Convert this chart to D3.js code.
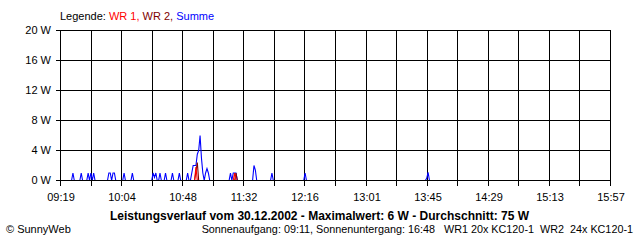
<!DOCTYPE html>
<html>
<head>
<meta charset="utf-8">
<script src="https://cdn.jsdelivr.net/npm/d3@7"></script>
<style>
  body { margin: 0; background: #fff; }
  svg { display: block; font-family: "Liberation Sans", Arial, sans-serif; }
</style>
</head>
<body>
<svg id="chart" width="640" height="240"></svg>
<script>
// time labels on the x axis (every second grid line)
var timeLabels = ["09:19", "10:04", "10:48", "11:32", "12:16", "13:01", "13:45", "14:29", "15:13", "15:57"];
var yTicks = [0, 4, 8, 12, 16, 20];

// Summe (blue) - minute of day / watts
var summeTimes = [559, 567, 568, 569, 573, 574, 575, 578, 579, 580, 581, 582, 583, 584,
  593, 594, 595, 596, 597, 598, 599, 604, 605, 606, 610, 611, 612,
  625, 626, 627, 628, 629, 630, 631, 632, 634, 635, 636, 639, 640, 641, 644, 645, 646,
  650, 651, 652, 653, 654, 655, 656, 657, 658, 659, 660, 661, 662, 663, 664, 665, 666, 667,
  681, 682, 683, 684, 685, 686, 687, 698, 699, 700, 701, 711, 712, 713, 735, 736, 737,
  823, 824, 825, 826, 957];
var summeValues = [0, 0, 1, 0, 0, 1, 0, 0, 1, 0, 1, 0, 1, 0,
  0, 1, 1, 0, 1, 1, 0, 0, 1, 0, 0, 1, 0,
  0, 1, 0.4, 1, 0, 0, 1, 0, 0, 1, 0, 0, 1, 0, 0, 1, 0,
  0, 1, 0, 0, 1, 2, 2, 2, 3.5, 4, 6, 3, 1, 0, 1, 1.6, 1, 0,
  0, 1, 0, 1, 1, 1, 0, 0, 2, 1.4, 0, 0, 1, 0, 0, 1, 0,
  0, 0.3, 1.1, 0, 0];

// WR 1 (red)
var wr1Times = [559, 655, 656, 657, 658, 684, 685, 686, 957];
var wr1Values = [0, 0, 0, 1.8, 0, 0, 1, 0, 0];

// WR 2 (dark red)
var wr2Times = [559, 656, 657, 658, 659, 685, 686, 687, 957];
var wr2Values = [0, 0, 1.2, 2.4, 0, 0, 1, 0, 0];

var svg = d3.select("#chart");
var margin = { top: 30, left: 60, right: 30, bottom: 60 };
var plotRight = 610, plotBottom = 180;

var x = d3.scaleLinear().domain([559, 957]).range([margin.left, plotRight]);
var y = d3.scaleLinear().domain([0, 20]).range([plotBottom, margin.top]);

var g = svg.append("g").attr("transform", "translate(0.5,0.5)");

// grid
var gridTicks = d3.range(19).map(function(i) { return 559 + i * 398 / 18; });
g.append("g").selectAll("line").data(gridTicks).enter().append("line")
  .attr("x1", function(d) { return Math.round(x(d)); })
  .attr("x2", function(d) { return Math.round(x(d)); })
  .attr("y1", margin.top).attr("y2", plotBottom + 5)
  .attr("stroke", "#000").attr("shape-rendering", "crispEdges");
g.append("g").selectAll("line").data(yTicks).enter().append("line")
  .attr("x1", margin.left - 5).attr("x2", plotRight)
  .attr("y1", function(d) { return y(d); })
  .attr("y2", function(d) { return y(d); })
  .attr("stroke", "#000").attr("shape-rendering", "crispEdges");

// series
function series(times, values, color) {
  var pts = times.map(function(t, i) { return [t, values[i]]; });
  var line = d3.line().x(function(d) { return x(d[0]); }).y(function(d) { return y(d[1]); });
  g.append("path").datum(pts).attr("d", line)
    .attr("fill", "none").attr("stroke", color).attr("stroke-width", 1.1);
}
series(summeTimes, summeValues, "#0000ff");
series(wr2Times, wr2Values, "#800000");
series(wr1Times, wr1Values, "#ff0000");

// baseline over the data
g.append("line").attr("x1", margin.left - 5).attr("x2", plotRight)
  .attr("y1", plotBottom).attr("y2", plotBottom)
  .attr("stroke", "#000").attr("shape-rendering", "crispEdges");

// y labels
svg.append("g").selectAll("text").data(yTicks).enter().append("text")
  .attr("x", 51).attr("y", function(d) { return y(d) + 4; })
  .attr("text-anchor", "end").attr("font-size", 11)
  .text(function(d) { return d + " W"; });

// x labels
svg.append("g").selectAll("text").data(timeLabels).enter().append("text")
  .attr("x", function(d, i) { return Math.round(x(gridTicks[i * 2])) + 1; })
  .attr("y", 201).attr("text-anchor", "middle").attr("font-size", 11)
  .text(function(d) { return d; });

// legend
var leg = svg.append("text").attr("x", 60).attr("y", 20).attr("font-size", 11);
leg.append("tspan").attr("fill", "#000").text("Legende: ");
leg.append("tspan").attr("fill", "#ff0000").text("WR 1, ");
leg.append("tspan").attr("fill", "#800000").text("WR 2, ");
leg.append("tspan").attr("fill", "#0000ff").text("Summe");

// title and footer
svg.append("text").attr("x", 110).attr("y", 220)
  .attr("font-size", 12).attr("font-weight", "bold")
  .attr("textLength", 419).attr("lengthAdjust", "spacingAndGlyphs")
  .text("Leistungsverlauf vom 30.12.2002 - Maximalwert: 6 W - Durchschnitt: 75 W");
svg.append("text").attr("x", 6).attr("y", 233).attr("font-size", 11)
  .text("\u00a9 SunnyWeb");
svg.append("text").attr("x", 633).attr("y", 233).attr("font-size", 10.8)
  .attr("text-anchor", "end")
  .attr("xml:space", "preserve")
  .text("Sonnenaufgang: 09:11, Sonnenuntergang: 16:48   WR1 20x KC120-1  WR2  24x KC120-1");
</script>
</body>
</html>
